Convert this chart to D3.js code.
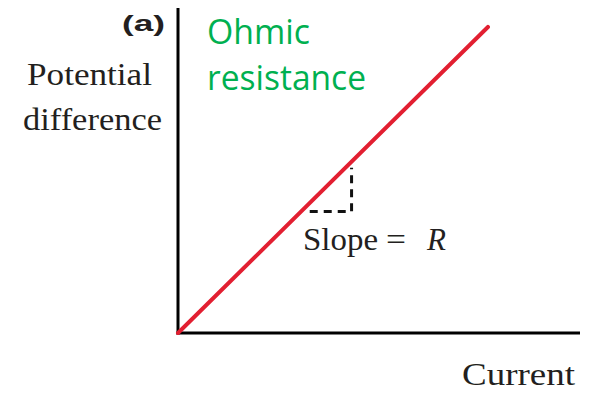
<!DOCTYPE html>
<html>
<head>
<meta charset="utf-8">
<script src="https://cdn.jsdelivr.net/npm/d3@7"></script>
<style>
  html, body { margin: 0; padding: 0; background: #fff; }
  svg { display: block; }
</style>
</head>
<body>
<svg id="chart" width="590" height="393"></svg>
<script>
// Ohmic conductor: potential difference grows linearly with current (V = R·I)
const resistance = 1;
const currents = [0, 1];
const voltages = currents.map(i => resistance * i);

// Slope triangle corners (current, potential difference)
const slopeRun = [0.425, 0.56];
const slopeRise = [0.397, 0.54];

const axisLabels = { y: ["Potential", "difference"], x: "Current" };
const panelTag = "(a)";
const titleLines = ["Ohmic", "resistance"];

const svg = d3.select("#chart");
const x = d3.scaleLinear().domain([0, 1.297]).range([178, 580]);
const y = d3.scaleLinear().domain([0, 1.062]).range([333, 8]);

const ink = "#231f20";
const serif = "'Liberation Serif', 'DejaVu Serif', serif";

// Axes as plain lines (no ticks)
svg.append("line")
  .attr("x1", x(0)).attr("x2", x(0))
  .attr("y1", y(0) + 1.5).attr("y2", y.range()[1])
  .attr("stroke", "#000").attr("stroke-width", 3);
svg.append("line")
  .attr("x1", x(0) - 1.5).attr("x2", x.range()[1])
  .attr("y1", y(0)).attr("y2", y(0))
  .attr("stroke", "#000").attr("stroke-width", 3);

// V–I line
const line = d3.line().x(d => x(d[0])).y(d => y(d[1]));
svg.append("path")
  .datum(d3.zip(currents, voltages))
  .attr("d", line)
  .attr("fill", "none")
  .attr("stroke", "#e21f31")
  .attr("stroke-width", 4)
  .attr("stroke-linecap", "round");

// Dashed slope triangle
svg.append("path")
  .attr("d", d3.line()([
    [x(slopeRun[0]), y(slopeRise[0])],
    [x(slopeRun[1]), y(slopeRise[0])],
    [x(slopeRun[1]), y(slopeRise[1])]
  ]))
  .attr("fill", "none")
  .attr("stroke", "#111")
  .attr("stroke-width", 3)
  .attr("stroke-dasharray", "8,6");

// Slope label
const labelY = 250;
svg.append("text")
  .attr("x", 303).attr("y", labelY)
  .attr("textLength", 75)
  .attr("lengthAdjust", "spacingAndGlyphs")
  .attr("font-family", serif)
  .attr("font-size", 31)
  .attr("fill", ink)
  .text("Slope");
svg.append("text")
  .attr("x", 386).attr("y", labelY)
  .attr("textLength", 20)
  .attr("lengthAdjust", "spacingAndGlyphs")
  .attr("font-family", serif)
  .attr("font-size", 31)
  .attr("fill", ink)
  .text("=");
svg.append("text")
  .attr("x", 427).attr("y", labelY)
  .attr("font-family", serif)
  .attr("font-style", "italic")
  .attr("font-size", 31)
  .attr("fill", ink)
  .text("R");

// Panel tag
svg.append("text")
  .attr("x", 122).attr("y", 31)
  .attr("textLength", 43)
  .attr("lengthAdjust", "spacingAndGlyphs")
  .attr("font-family", "'Liberation Sans', 'DejaVu Sans', sans-serif")
  .attr("font-weight", "bold")
  .attr("font-size", 22)
  .attr("fill", ink)
  .text(panelTag);

// Y axis label
svg.selectAll(".ylab")
  .data(axisLabels.y)
  .join("text")
  .attr("class", "ylab")
  .attr("x", (d, i) => i === 0 ? 27 : 23)
  .attr("y", (d, i) => 85 + i * 45)
  .attr("textLength", (d, i) => i === 0 ? 125 : 139)
  .attr("lengthAdjust", "spacingAndGlyphs")
  .attr("font-family", serif)
  .attr("font-size", 31)
  .attr("fill", ink)
  .text(d => d);

// X axis label
svg.append("text")
  .attr("x", 462).attr("y", 385)
  .attr("textLength", 113)
  .attr("lengthAdjust", "spacingAndGlyphs")
  .attr("font-family", serif)
  .attr("font-size", 31)
  .attr("fill", ink)
  .text(axisLabels.x);

// Green title
svg.selectAll(".title")
  .data(titleLines)
  .join("text")
  .attr("class", "title")
  .attr("x", 207)
  .attr("y", (d, i) => 44 + i * 46)
  .attr("textLength", (d, i) => i === 0 ? 103 : 159)
  .attr("lengthAdjust", "spacingAndGlyphs")
  .attr("font-family", "'Open Sans', Lato, sans-serif")
  .attr("font-size", 34)
  .attr("fill", "#00b050")
  .text(d => d);
</script>
</body>
</html>
